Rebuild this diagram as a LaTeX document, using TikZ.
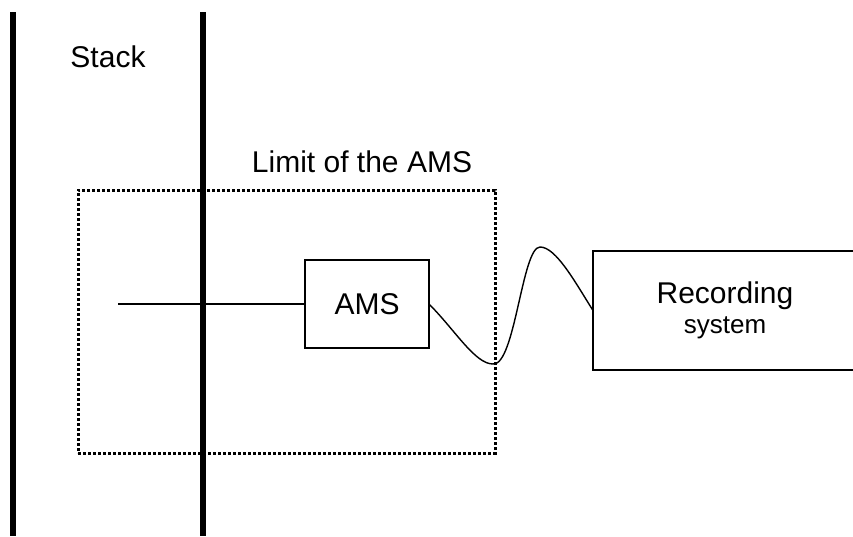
\documentclass[tikz,border=0pt]{standalone}
\usepackage{fontspec}
\setmainfont{Liberation Sans}
\newlength{\stacklinewidth}
\setlength{\stacklinewidth}{5.5pt}

\begin{document}
\begin{tikzpicture}[x=1pt,y=-1pt,
        wall/.style={line width=\stacklinewidth},
        box/.style={
            rectangle,draw,
            line width=2.4pt,
            inner sep=0pt,outer sep=0pt,
            font=\fontsize{30}{30}\selectfont,
            },
        limitbox/.style={
            rectangle,draw,
            line width=3pt,
            dash pattern=on 3pt off 2pt,
            inner sep=0pt,outer sep=0pt,
            },
        label/.style={anchor=base,inner sep=0pt,font=\fontsize{30}{30}\selectfont},
        wire/.style={line width=1.4pt},
        ]
        \useasboundingbox (0,0) rectangle (853,536);
        % the stack
        \coordinate (wallatop) at (13,12);
        \coordinate (wallabot) at (13,536);
        \coordinate (wallbtop) at (203,12);
        \coordinate (wallbbot) at (203,536);
        \draw[wall] (wallatop) -- (wallabot);
        \draw[wall] (wallbtop) -- (wallbbot);
        \node[label] (stack) at (108,67) {Stack};
        % limit of the AMS
        \node[limitbox,minimum width=417,minimum height=263] (limit) at (286.5,321.5) {};
        \node[label] (limittext) at (362,172) {Limit of the AMS};
        \node[box,minimum width=124,minimum height=88] (ams) at (367,304) {AMS};
        \coordinate (probe) at (118,304);
        \draw[wire] (probe) -- (ams.west);
        % recording
        \node[box,align=center,minimum width=264,minimum height=119] (rec) at (725,310.5)
            {Recording\\{\fontsize{26}{30}\selectfont system}};
        \coordinate (dip) at (493,364);
        \coordinate (peak) at (540,247);
        \draw[wire] (ams.east) .. controls (455,330) and (475,364) .. (dip)
            .. controls (515,366) and (522,247) .. (peak)
            .. controls (556,247) and (575,282) .. (rec.west);
\end{tikzpicture}
\end{document}
